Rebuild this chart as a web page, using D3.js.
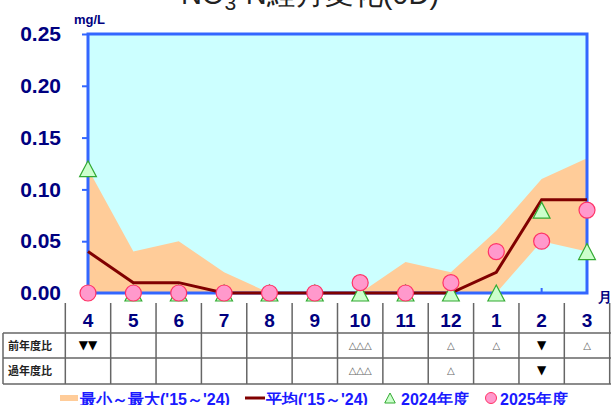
<!DOCTYPE html>
<html>
<head>
<meta charset="utf-8">
<script src="https://cdn.jsdelivr.net/npm/d3@7"></script>
<style>
  body { margin: 0; background: #fff; }
  svg { display: block; font-family: "Liberation Sans", Arial, sans-serif; }
</style>
</head>
<body>
<svg id="chart" width="611" height="405"></svg>
<script>
// data
var months = ["4", "5", "6", "7", "8", "9", "10", "11", "12", "1", "2", "3"];
var maxVals = [0.12, 0.04, 0.05, 0.02, 0, 0, 0, 0.03, 0.02, 0.06, 0.11, 0.13];
var minVals = [0, 0, 0, 0, 0, 0, 0, 0, 0, 0, 0.05, 0.04];
var avgVals = [0.04, 0.01, 0.01, 0, 0, 0, 0, 0, 0, 0.02, 0.09, 0.09];
var fy2024 = [0.12, 0, 0, 0, 0, 0, 0, 0, 0, 0, 0.08, 0.04];
var fy2025 = [0, 0, 0, 0, 0, 0, 0.01, 0, 0.01, 0.04, 0.05, 0.08];
var yTicks = [0, 0.05, 0.10, 0.15, 0.20, 0.25];
var rowLabels = ["前年度比", "過年度比"];
var prevYear = ["▼▼", "", "", "", "", "", "△△△", "", "△", "△", "▼", "△"];
var pastYears = ["", "", "", "", "", "", "△△△", "", "△", "", "▼", ""];
var legendLabels = ["最小～最大('15～'24)", "平均('15～'24)", "2024年度", "2025年度"];

var svg = d3.select("#chart");
var plotL = 88, plotR = 587, plotT = 34, plotB = 293;

var x = d3.scalePoint().domain(months).range([plotL, plotR]);
var y = d3.scaleLinear().domain([0, 0.25]).range([plotB, plotT]);
var step = x.step();

// title (cut at the top like the original)
var title = svg.append("text")
    .attr("x", 310).attr("y", 4)
    .attr("text-anchor", "middle")
    .style("font-size", "29px")
    .style("fill", "#222");
title.append("tspan").text("NO");
title.append("tspan").attr("dy", 6).style("font-size", "21px").text("3");
title.append("tspan").attr("dy", -6).text("-N経月変化(0D)");

svg.append("text")
    .attr("x", 74).attr("y", 24)
    .style("font-size", "13px").style("font-weight", "bold")
    .style("fill", "#000080")
    .text("mg/L");

// plot background
svg.append("rect")
    .attr("x", plotL).attr("y", plotT)
    .attr("width", plotR - plotL).attr("height", plotB - plotT)
    .style("fill", "#ccffff");

// min-max band
var band = d3.area()
    .x(function(d, i) { return x(months[i]); })
    .y0(function(d, i) { return y(minVals[i]); })
    .y1(function(d, i) { return y(maxVals[i]); });
svg.append("path")
    .datum(maxVals)
    .attr("d", band)
    .style("fill", "#ffcc99");

// y axis
var yAxis = svg.append("g")
    .attr("transform", "translate(" + plotL + ",0)")
    .call(d3.axisLeft(y).tickValues(yTicks).tickSize(6).tickPadding(21).tickFormat(d3.format(".2f")));
yAxis.select(".domain").remove();
yAxis.selectAll("line").style("stroke", "#3366ff").style("stroke-width", 2);
yAxis.selectAll("text")
    .style("font-size", "21px").style("font-weight", "bold")
    .style("fill", "#000080").style("font-family", "Liberation Sans, Arial, sans-serif");

// month ticks pointing inward
svg.append("g").selectAll("line")
    .data(months)
    .enter().append("line")
    .attr("x1", d => x(d)).attr("x2", d => x(d))
    .attr("y1", plotB).attr("y2", plotB - 5)
    .style("stroke", "#3366ff").style("stroke-width", 2);

// border
svg.append("rect")
    .attr("x", plotL).attr("y", plotT)
    .attr("width", plotR - plotL).attr("height", plotB - plotT)
    .style("fill", "none").style("stroke", "#3366ff").style("stroke-width", 3);

// average line
var avgLine = d3.line()
    .x(function(d, i) { return x(months[i]); })
    .y(function(d) { return y(d); });
svg.append("path")
    .datum(avgVals)
    .attr("d", avgLine)
    .style("fill", "none").style("stroke", "#800000").style("stroke-width", 3);

function triPath(cx, cy, s) {
    return "M" + cx + "," + (cy - s) + "L" + (cx + s * 1.05) + "," + (cy + s) + "L" + (cx - s * 1.05) + "," + (cy + s) + "Z";
}

// 2024 triangles
svg.append("g").selectAll("path")
    .data(fy2024)
    .enter().append("path")
    .attr("d", (d, i) => triPath(x(months[i]), y(d), 8))
    .style("fill", "#ccffcc").style("stroke", "#33aa33").style("stroke-width", 1.2);

// 2025 circles
svg.append("g").selectAll("circle")
    .data(fy2025)
    .enter().append("circle")
    .attr("cx", (d, i) => x(months[i]))
    .attr("cy", d => y(d))
    .attr("r", 8)
    .style("fill", "#ff99cc").style("stroke", "#ff3366").style("stroke-width", 1.2);

svg.append("text")
    .attr("x", 598).attr("y", 302)
    .style("font-size", "14px").style("font-weight", "bold")
    .style("fill", "#000080")
    .text("月");

// table below
var table = svg.append("g");
var tabTop = 303, r1 = 333, r2 = 358, r3 = 384;
var colEdges = d3.range(months.length + 1).map(i => plotL - step / 2 + i * step);
var gridColor = "#666";

table.selectAll(".vline")
    .data(colEdges)
    .enter().append("line")
    .attr("x1", d => d).attr("x2", d => d)
    .attr("y1", tabTop).attr("y2", r3)
    .style("stroke", gridColor).style("stroke-width", 1.5);
table.append("line")
    .attr("x1", 3).attr("x2", 3).attr("y1", r1).attr("y2", r3)
    .style("stroke", gridColor).style("stroke-width", 1.5);
table.selectAll(".hline")
    .data([r1, r2, r3])
    .enter().append("line")
    .attr("x1", 3).attr("x2", 611)
    .attr("y1", d => d).attr("y2", d => d)
    .style("stroke", gridColor).style("stroke-width", 1.5);

table.selectAll(".mlabel")
    .data(months)
    .enter().append("text")
    .attr("x", d => x(d)).attr("y", 327)
    .attr("text-anchor", "middle")
    .style("font-size", "19px").style("font-weight", "bold")
    .style("fill", "#000080")
    .text(d => d);

table.selectAll(".rlabel")
    .data(rowLabels)
    .enter().append("text")
    .attr("x", 8).attr("y", (d, i) => (i == 0 ? r1 : r2) + 17)
    .style("font-size", "11px").style("font-weight", "bold")
    .style("fill", "#222")
    .style("font-family", "Noto Sans CJK JP, sans-serif")
    .text(d => d);

[prevYear, pastYears].forEach(function(row, k) {
    table.append("g").selectAll("text")
        .data(row)
        .enter().append("text")
        .attr("x", (d, i) => x(months[i]))
        .attr("y", (k == 0 ? r1 : r2) + 16)
        .attr("text-anchor", "middle")
        .style("font-size", d => d.indexOf("▼") >= 0 ? "12px" : "10px")
        .style("fill", d => d.indexOf("▼") >= 0 ? "#000" : "#666")
        .style("font-family", "DejaVu Sans, sans-serif")
        .text(d => d);
});

// legend
var legend = svg.append("g").style("font-size", "16px").style("font-weight", "bold");
var ly = 398;
legend.append("rect").attr("x", 60).attr("y", ly - 3).attr("width", 18).attr("height", 6).style("fill", "#ffcc99");
legend.append("line").attr("x1", 245).attr("x2", 265).attr("y1", ly).attr("y2", ly)
    .style("stroke", "#800000").style("stroke-width", 3);
legend.append("path").attr("d", triPath(390, ly, 5)).style("fill", "#ccffcc").style("stroke", "#33aa33");
legend.append("circle").attr("cx", 491).attr("cy", ly).attr("r", 5.5)
    .style("fill", "#ff99cc").style("stroke", "#ff3366");
var lx = [80, 266, 401, 500];
legend.selectAll("text")
    .data(legendLabels)
    .enter().append("text")
    .attr("x", (d, i) => lx[i]).attr("y", 405)
    .style("fill", "#1a1aff")
    .text(d => d);
</script>
</body>
</html>
